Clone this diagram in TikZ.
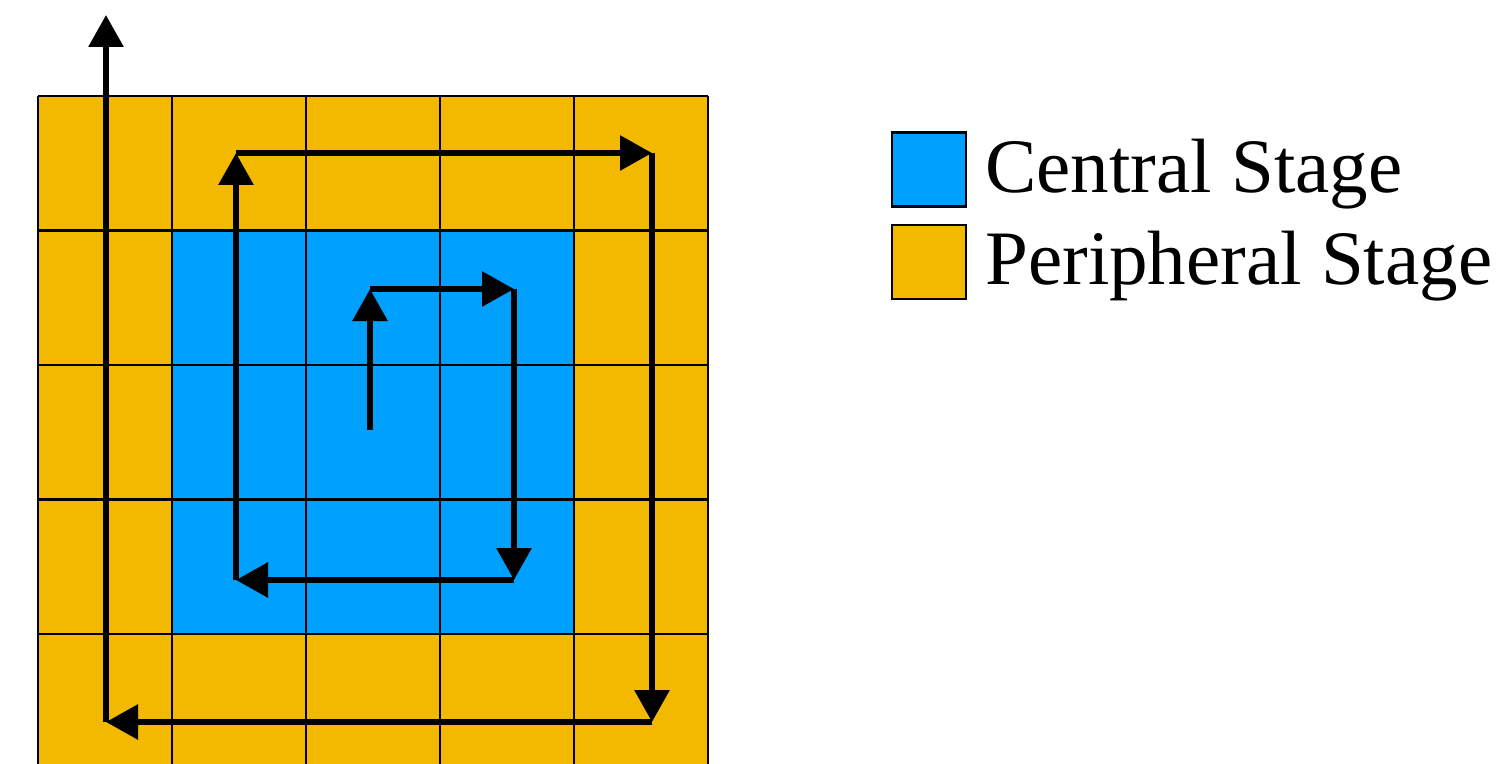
\documentclass[tikz,border=0pt]{standalone}
\usepackage{fontspec}
\setmainfont{Liberation Serif}
\usetikzlibrary{arrows.meta}
\definecolor{peri}{RGB}{242,185,0}
\definecolor{cent}{RGB}{0,160,255}
\tikzset{
  gridline/.style={black, line width=1.1pt},
  arr/.style={black, line width=3pt, -{Triangle[length=16pt,width=17pt]}},
  legbox/.style={draw=black, line width=1.1pt, minimum width=37pt, minimum height=37pt, inner sep=0pt},
  legtext/.style={anchor=base west, inner sep=0pt, font=\fontsize{38.5}{42}\selectfont}
}
\begin{document}
\begin{tikzpicture}[x=0.5pt,y=-0.5pt]
\useasboundingbox (0,0) rectangle (1507,764);
\begin{scope}
\clip (0,0) rectangle (1507,764);
% grid fill
\fill[peri] (38,96) rectangle (708,768.5);
\fill[cent] (172,230.5) rectangle (574,634);
% grid lines
\foreach \x in {38,172,306,440,574,708} \draw[gridline] (\x,96) -- (\x,768.5);
\foreach \y in {96,230.5,365,499.5,634} \draw[gridline] (38,\y) -- (708,\y);
\end{scope}
% spiral corners
\coordinate (A) at (370,430);
\coordinate (B) at (370,289);
\coordinate (C) at (514,289);
\coordinate (D) at (514,580);
\coordinate (E) at (236,580);
\coordinate (F) at (236,153);
\coordinate (G) at (652,153);
\coordinate (H) at (652,722);
\coordinate (I) at (106,722);
\coordinate (J) at (106,15);
\draw[arr] (A) -- (B);
\draw[arr] (B) -- (C);
\draw[arr] (C) -- (D);
\draw[arr] (D) -- (E);
\draw[arr] (E) -- (F);
\draw[arr] (F) -- (G);
\draw[arr] (G) -- (H);
\draw[arr] (H) -- (I);
\draw[arr] (I) -- (J);
% legend
\node[legbox, fill=cent] (lb1) at (929,169.5) {};
\node[legbox, fill=peri] (lb2) at (929,262) {};
\node[legtext] (lt1) at (985,193) {Central Stage};
\node[legtext] (lt2) at (985,285) {Peripheral Stage};
\end{tikzpicture}
\end{document}
